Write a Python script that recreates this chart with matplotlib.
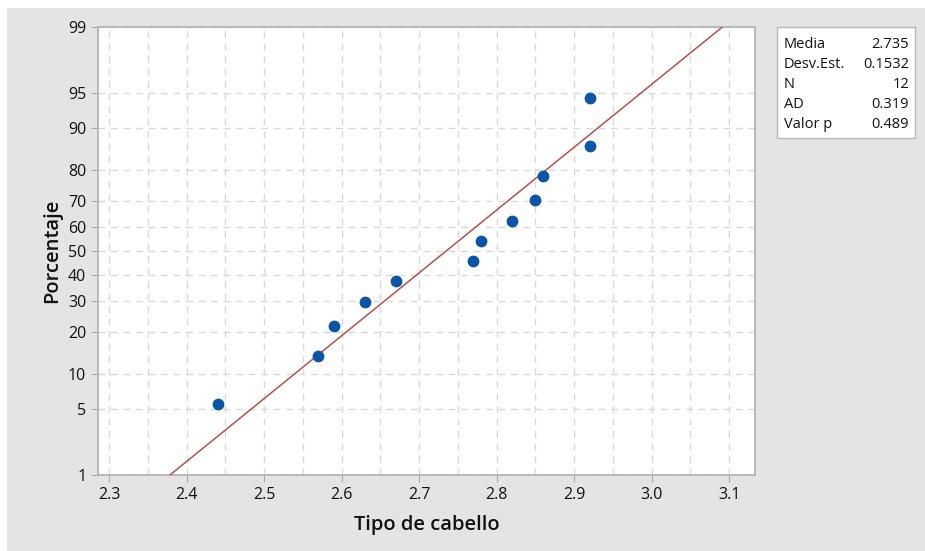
import numpy as np
import matplotlib
matplotlib.use("Agg")
import matplotlib.pyplot as plt
from matplotlib.patches import Rectangle
from statistics import NormalDist

# Data
tipo_cabello = [2.44, 2.57, 2.59, 2.63, 2.67, 2.77, 2.78, 2.82, 2.85, 2.86, 2.92, 2.92]
n = len(tipo_cabello)
percent = [(i - 0.3) / (n + 0.4) * 100 for i in range(1, n + 1)]
media = 2.735
desv = 0.1532
stats_labels = ["Media", "Desv.Est.", "N", "AD", "Valor p"]
stats_values = ["2.735", "0.1532", "12", "0.319", "0.489"]
y_ticks = [1, 5, 10, 20, 30, 40, 50, 60, 70, 80, 90, 95, 99]
x_ticks = [2.3, 2.4, 2.5, 2.6, 2.7, 2.8, 2.9, 3.0, 3.1]

nd = NormalDist()
def fwd(p):
    p = np.asarray(p, dtype=float)
    out = np.empty_like(p)
    flat = p.ravel(); o = out.ravel()
    for i, v in enumerate(flat):
        v = min(max(v / 100.0, 1e-9), 1 - 1e-9)
        o[i] = nd.inv_cdf(v)
    return out
def inv(z):
    z = np.asarray(z, dtype=float)
    out = np.empty_like(z)
    flat = z.ravel(); o = out.ravel()
    for i, v in enumerate(flat):
        o[i] = nd.cdf(v) * 100.0
    return out

plt.rcParams['font.family'] = ['Open Sans', 'DejaVu Sans']
fig = plt.figure(figsize=(9.25, 5.51), dpi=100)
fig.patch.set_facecolor('white')
fig.patches.append(Rectangle((7/925, 0), 1, 1 - 8/551, transform=fig.transFigure,
                             facecolor='#e4e4e4', edgecolor='none', zorder=-10))

ax = fig.add_axes([98/925, 1 - 475/551, (755 - 98)/925, (475 - 27)/551])
ax.set_facecolor('white')
ax.set_yscale('function', functions=(fwd, inv))
ax.set_ylim(1, 99)
ax.set_xlim(2.2858, 3.1335)

# fitted line
line_p = np.array([1, 99], dtype=float)
line_x = [media + desv * nd.inv_cdf(p / 100) for p in line_p]
ax.plot(line_x, line_p, color='#b4504a', lw=1.1, zorder=3)
ax.scatter(tipo_cabello, percent, s=72, color='#0a55a8', marker='o', zorder=4, linewidths=0)

ax.set_yticks(y_ticks)
ax.set_yticklabels([str(t) for t in y_ticks])
ax.set_xticks(x_ticks)
ax.set_xticklabels([f"{t:.1f}" for t in x_ticks])
ax.set_xticks(np.arange(2.35, 3.11, 0.1), minor=True)
ax.yaxis.set_minor_locator(matplotlib.ticker.NullLocator())
ax.grid(True, which='both', axis='x', color='#d9d9d9', ls=(0, (5, 4)), lw=1)
ax.grid(True, which='major', axis='y', color='#d9d9d9', ls=(0, (5, 4)), lw=1)
ax.tick_params(axis='both', which='major', length=5, color='#a8a8a8', labelsize=11.5, labelcolor='#111111')
ax.tick_params(axis='x', which='minor', length=0)
for s in ax.spines.values():
    s.set_color('#b4b4b4')
    s.set_linewidth(1.3)

ax.set_xlabel("Tipo de cabello", fontsize=14.5, color='#111111', labelpad=9, fontweight='semibold')
ax.set_ylabel("Porcentaje", fontsize=14.5, color='#111111', labelpad=4, fontweight='semibold')

# stats box
fig.patches.append(Rectangle((777/925, 1 - 138/551), (915 - 777)/925, (138 - 27)/551,
                             transform=fig.transFigure, facecolor='white',
                             edgecolor='#b8b8b8', lw=1, zorder=5))
for i, (lab, val) in enumerate(zip(stats_labels, stats_values)):
    yy = 1 - (45 + i * 19.8) / 551
    fig.text(784/925, yy, lab, fontsize=10.5, va='center', ha='left', color='#111111', zorder=6)
    fig.text(909/925, yy, val, fontsize=10.5, va='center', ha='right', color='#111111', zorder=6)

fig.savefig("out.png", dpi=100)
